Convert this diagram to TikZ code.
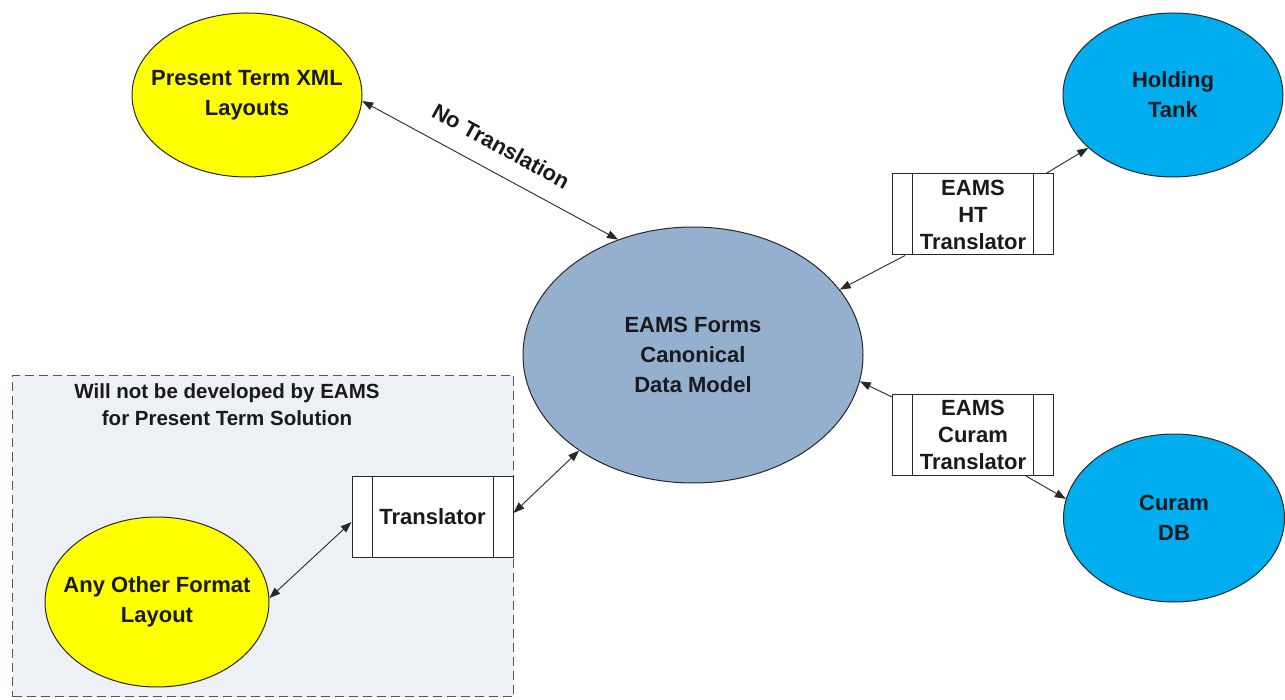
\documentclass[tikz,border=0pt]{standalone}
\usepackage{fontspec}
\setmainfont{Liberation Sans}
\usetikzlibrary{shapes.geometric,arrows.meta,calc}
\definecolor{yellowc}{RGB}{255,255,0}
\definecolor{bluec}{RGB}{0,174,239}
\definecolor{centc}{RGB}{149,175,207}
\definecolor{regionc}{RGB}{237,240,245}
\definecolor{textc}{RGB}{25,25,30}
\definecolor{linec}{RGB}{40,40,40}
\begin{document}
\begin{tikzpicture}[x=1pt,y=-1pt,
  ell/.style={ellipse, draw=linec, line width=1pt, inner sep=0pt},
  elltext/.style={align=center, inner sep=0pt, font=\bfseries\fontsize{22}{30}\selectfont, text=textc},
  tbox/.style={rectangle, draw=linec, fill=white, line width=1pt,
    minimum width=161pt, minimum height=81pt, inner sep=0pt, align=center,
    font=\bfseries\fontsize{22}{27}\selectfont, text=textc,
    path picture={\draw[line width=1pt, linec]
      ([xshift=20pt]path picture bounding box.north west) -- ([xshift=20pt]path picture bounding box.south west)
      ([xshift=-20pt]path picture bounding box.north east) -- ([xshift=-20pt]path picture bounding box.south east);}},
  regionbox/.style={rectangle, draw={rgb,255:red,85;green,85;blue,85}, dash pattern=on 9pt off 5pt,
    line width=1pt, fill=regionc, inner sep=0pt, anchor=north west},
  lbl/.style={font=\bfseries\fontsize{20.5}{27}\selectfont, text=textc, align=center},
  conn/.style={line width=0.9pt, draw=linec, -{Triangle[length=11pt,width=8pt]}},
  biconn/.style={line width=0.9pt, draw=linec, {Triangle[length=11pt,width=8pt]}-{Triangle[length=11pt,width=8pt]}}
]
\useasboundingbox (0,0) rectangle (1285,700);
\fill[white] (0,0) rectangle (1285,700);

% region
\node[regionbox, minimum width=501pt, minimum height=321pt] (region) at (12,375) {};
\node[lbl] (rtitle) at (227,405) {Will not be developed by EAMS\\for Present Term Solution};

% ellipses
\node[ell, fill=yellowc, minimum width=230pt, minimum height=164pt,
  label={[elltext]center:Present Term XML\\Layouts}] (pt) at (247,95) {};
\node[ell, fill=bluec, minimum width=220pt, minimum height=164pt,
  label={[elltext]center:Holding\\Tank}] (ht) at (1173,95) {};
\node[ell, fill=centc, minimum width=340pt, minimum height=256pt,
  label={[elltext]center:EAMS Forms\\Canonical\\Data Model}] (cdm) at (693,355) {};
\node[ell, fill=bluec, minimum width=221pt, minimum height=168pt,
  label={[elltext]center:Curam\\DB}] (db) at (1174,518) {};
\node[ell, fill=yellowc, minimum width=224pt, minimum height=170pt,
  label={[elltext]center:Any Other Format\\Layout}] (ao) at (157,602) {};

% translator boxes
\node[tbox] (tr) at (432.5,517) {Translator};
\node[tbox] (htt) at (973,214.5) {EAMS\\HT\\Translator};
\node[tbox] (cut) at (973,435) {EAMS\\Curam\\Translator};

% connectors
\draw[biconn] (pt.-3) -- (cdm.123.5);
\node[font=\bfseries\fontsize{22}{27}\selectfont, text=textc, rotate=-28.8] (ntl) at (501,146) {No Translation};
\draw[conn] ([xshift=13pt]htt.south west) -- (cdm.24);
\draw[conn] ([xshift=-8pt]htt.north east) -- (ht.212);
\draw[conn] ([yshift=-3pt]cut.north west) -- (cdm.-9);
\draw[conn] ([xshift=-28pt]cut.south east) -- (db.170);
\draw[biconn] ([yshift=4pt]tr.east) -- (cdm.220);
\draw[biconn] ([yshift=-5pt]tr.west) -- (ao.2);
\end{tikzpicture}
\end{document}
